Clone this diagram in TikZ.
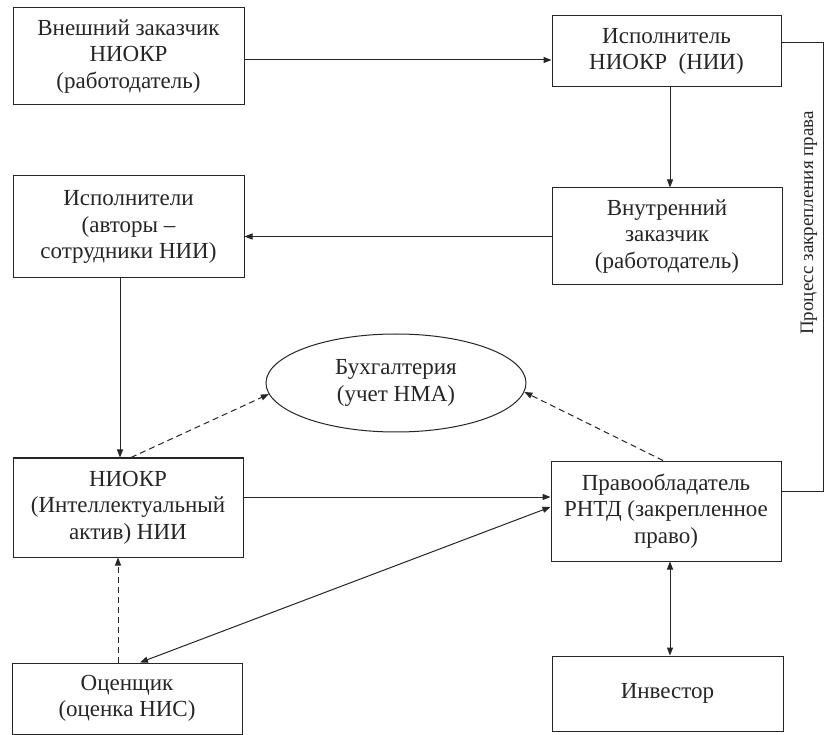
\documentclass[tikz,border=0pt]{standalone}
\usepackage{fontspec}
\setmainfont{Liberation Serif}
\newfontfamily\diagserif{Liberation Serif}
\usetikzlibrary{arrows.meta,shapes.geometric}
\tikzset{
  box/.style={draw=black!85, line width=1pt, rectangle, align=center, inner sep=2pt,
    font=\diagserif\fontsize{23}{26.5}\selectfont, text=black!85},
  ell/.style={draw=black!85, line width=1pt, ellipse, align=center, inner sep=0pt,
    font=\diagserif\fontsize{23}{26.5}\selectfont, text=black!85},
  arr/.style={draw=black!85, line width=1pt, -{Triangle[length=8pt,width=6pt]}},
  darr/.style={draw=black!85, line width=1pt, {Triangle[length=8pt,width=6pt]}-{Triangle[length=8pt,width=6pt]}},
  dasharr/.style={draw=black!85, line width=1pt, dash pattern=on 6pt off 4pt, -{Triangle[length=8pt,width=6pt]}},
  plain/.style={draw=black!85, line width=1pt}
}
\begin{document}
\begin{tikzpicture}[x=1pt,y=-1pt]
\useasboundingbox[fill=white] (0,0) rectangle (828,735);
\node[box, minimum width=231pt, minimum height=97pt] (b1) at (128.5,56.5) {Внешний заказчик\\НИОКР\\(работодатель)};
\node[box, minimum width=229pt, minimum height=71pt] (b2) at (666.5,51.5) {Исполнитель\\НИОКР\ \ (НИИ)};
\node[box, minimum width=230pt, minimum height=97pt] (b3) at (667,236.5) {Внутренний\\заказчик\\(работодатель)};
\node[box, minimum width=231pt, minimum height=102pt] (b4) at (128.5,227) {Исполнители\\(авторы –\\сотрудники НИИ)};
\node[ell, minimum width=260pt, minimum height=98pt] (e) at (396,383) {Бухгалтерия\\(учет НМА)};
\node[box, minimum width=230pt, minimum height=99pt] (n) at (128,507.5) {НИОКР\\(Интеллектуальный\\актив) НИИ};
\node[box, minimum width=230pt, minimum height=100pt] (p) at (666,511) {Правообладатель\\РНТД (закрепленное\\право)};
\node[box, minimum width=230pt, minimum height=71pt] (o) at (127,698.5) {Оценщик\\(оценка НИС)};
\node[box, minimum width=231pt, minimum height=75pt] (i) at (667.5,693.5) {Инвестор};

% b1 -> b2
\coordinate (a1) at ([yshift=-3.5pt]b1.east);
\draw[arr] (a1) -- (a1 -| b2.west);
% b2 -> b3
\coordinate (a2) at ([xshift=3.5pt]b2.south);
\draw[arr] (a2) -- (a2 |- b3.north);
% b3 -> b4
\draw[arr] (b3.west) -- (b3.west -| b4.east);
% b4 -> n
\coordinate (a4) at ([xshift=-8.5pt]b4.south);
\draw[arr] (a4) -- (a4 |- n.north);
% dashed to ellipse
\draw[dasharr] ([xshift=3pt]n.north) -- (e.185);
\draw[dasharr] ([xshift=-3pt]p.north) -- (e.-4);
% n -> p
\coordinate (a7) at ([yshift=10.5pt]n.east);
\draw[arr] (a7) -- (a7 -| p.west);
% o <-> p diagonal
\draw[darr] ([xshift=13pt]o.north) -- ([yshift=4pt]p.west);
% o -> n dashed
\coordinate (a9) at ([xshift=-9pt]o.north);
\draw[dasharr] (a9) -- (a9 |- n.south);
% p <-> i
\coordinate (a10) at ([xshift=4pt]p.south);
\draw[darr] (a10) -- (a10 |- i.north);
% bracket
\coordinate (c1) at ([yshift=8.5pt]b2.east);
\coordinate (c2) at ([yshift=20pt]p.east);
\coordinate (r) at (823,270);
\draw[plain] (c1) -- (c1 -| r) -- (r |- c2) -- (c2);
\node[rotate=90, font=\diagserif\fontsize{19}{22}\selectfont, text=black!85] (lbl) at (809,223) {Процесс закрепления права};
\end{tikzpicture}
\end{document}
